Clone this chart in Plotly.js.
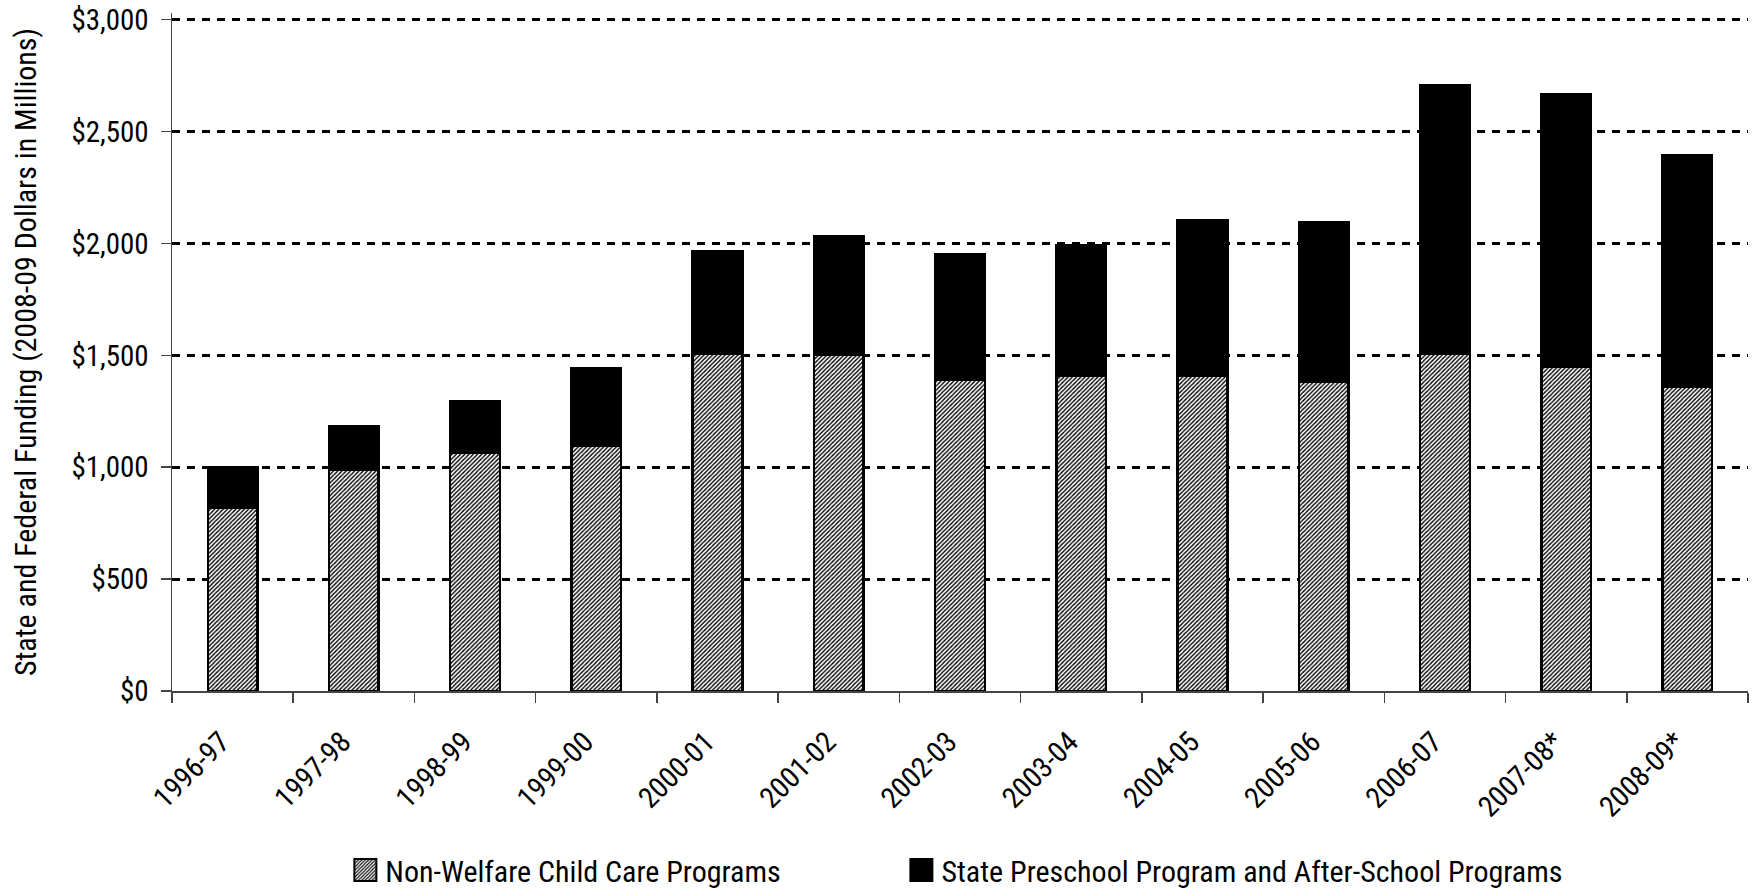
<!DOCTYPE html>
<html>
<head>
<meta charset="utf-8">
<script src="https://cdn.plot.ly/plotly-3.0.1.min.js"></script>
<style>html,body{margin:0;padding:0;background:#fff;}#chart{width:1754px;height:890px;}</style>
</head>
<body>
<div id="chart"></div>
<script>
const years = ["1996-97","1997-98","1998-99","1999-00","2000-01","2001-02","2002-03","2003-04","2004-05","2005-06","2006-07","2007-08*","2008-09*"];
const nonWelfare = [818, 988, 1063, 1098, 1507, 1502, 1392, 1407, 1407, 1382, 1507, 1450, 1360];
const totals = [998, 1183, 1297, 1442, 1966, 2031, 1951, 1991, 2106, 2096, 2705, 2665, 2394];
const preschool = totals.map((t, i) => t - nonWelfare[i]);
const yTickVals = [0, 500, 1000, 1500, 2000, 2500, 3000];
const yTickText = ["$0", "$500", "$1,000", "$1,500", "$2,000", "$2,500", "$3,000"];

const FONT = "Roboto Condensed";
const XFONT_SIZE = 29;

const traces = [
  {
    type: "bar", name: "Non-Welfare Child Care Programs", x: years, y: nonWelfare,
    legend: "legend",
    marker: {
      color: "#ffffff",
      pattern: {shape: "/", fgcolor: "#000000", bgcolor: "#ffffff", size: 3, solidity: 0.45},
      line: {color: "#000000", width: 2.5}
    },
    hoverinfo: "x+y"
  },
  {
    type: "bar", name: "State Preschool Program and After-School Programs", x: years, y: preschool,
    legend: "legend2",
    marker: {color: "#000000", line: {color: "#000000", width: 2.5}},
    hoverinfo: "x+y"
  }
];

const legendCommon = {
  orientation: "h", xref: "container", yref: "container", xanchor: "left", y: 0.0225, yanchor: "middle",
  font: {family: FONT, size: 30, color: "#000"}, itemwidth: 30, bgcolor: "rgba(0,0,0,0)"
};

const layout = {
  width: 1754, height: 890,
  margin: {l: 172, r: 6, t: 13, b: 199},
  paper_bgcolor: "#ffffff", plot_bgcolor: "#ffffff",
  barmode: "stack", bargap: 0.59,
  font: {family: FONT, color: "#000000", size: 29},
  showlegend: true,
  legend: Object.assign({}, legendCommon, {x: 0.1969}),
  legend2: Object.assign({}, legendCommon, {x: 0.5139}),
  xaxis: {
    type: "category", tickangle: -45, tickson: "boundaries", automargin: false,
    ticks: "outside", ticklen: 10, tickcolor: "#444", tickwidth: 1.5,
    showline: true, linecolor: "#444", linewidth: 1.5,
    showgrid: false, tickfont: {family: FONT, size: XFONT_SIZE, color: "#000"}
  },
  yaxis: {
    range: [0, 3030], tickvals: yTickVals, ticktext: yTickText, automargin: false,
    ticks: "outside", ticklen: 10, tickcolor: "#444", tickwidth: 1.5,
    showline: true, linecolor: "#444", linewidth: 1.5,
    showgrid: true, gridcolor: "#000000", gridwidth: 3, griddash: "8px,7px",
    zeroline: false, tickfont: {family: FONT, size: 29, color: "#000"},
    ticklabelstandoff: 6,
    title: {text: "State and Federal Funding (2008-09 Dollars in Millions)", font: {family: FONT, size: 30, color: "#000"}, standoff: 26}
  }
};

Plotly.newPlot("chart", traces, layout, {displayModeBar: false, staticPlot: true}).then(function (gd) {
  // enlarge legend swatches
  document.querySelectorAll(".legendpoints path").forEach(function (p) {
    p.setAttribute("d", "M11,11H-11V-11H11Z");
    p.style.stroke = "#000";
    p.style.strokeWidth = "2px";
  });
  // place the rotated category labels so the top of the first label's last glyph
  // sits where it does in the reference
  const labels = Array.from(gd.querySelectorAll(".xaxislayer-above .xtick text"));
  if (labels.length) {
    const first = labels[0];
    const bb = first.getBBox();
    const ctm = first.getCTM();
    const svg = first.ownerSVGElement;
    const baseline = bb.y + bb.height * (0.927 / 1.171);
    const pt = svg.createSVGPoint();
    pt.x = bb.x + bb.width - 1;
    pt.y = baseline - 0.711 * XFONT_SIZE;
    const p = pt.matrixTransform(ctm);
    const dx = 216 - p.x, dy = 730 - p.y;
    labels.forEach(function (t) {
      const tr = t.getAttribute("transform") || "";
      t.setAttribute("transform", "translate(" + dx.toFixed(1) + "," + dy.toFixed(1) + ") " + tr);
    });
  }
});
</script>
</body>
</html>
